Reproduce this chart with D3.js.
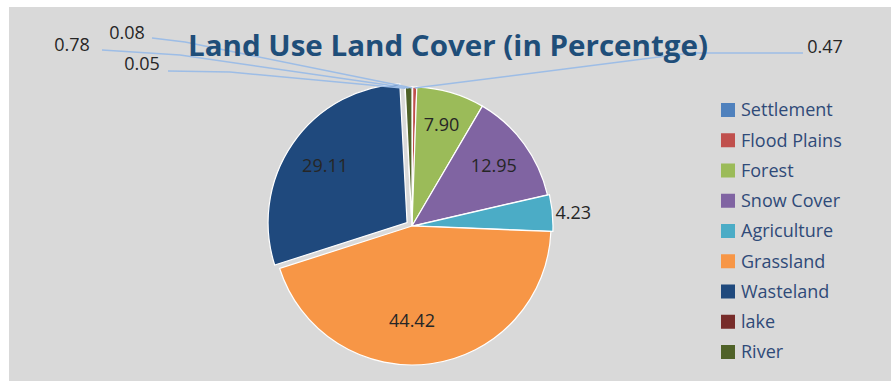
<!DOCTYPE html>
<html>
<head>
<meta charset="utf-8">
<script src="https://cdn.jsdelivr.net/npm/d3@7"></script>
<style>
  body { margin: 0; background: #fff; }
  text { font-family: "Open Sans", Lato, sans-serif; }
</style>
</head>
<body>
<svg id="chart"></svg>
<script>
// data
const categories = ["Settlement", "Flood Plains", "Forest", "Snow Cover", "Agriculture", "Grassland", "Wasteland", "lake", "River"];
const values = [0.08, 0.47, 7.90, 12.95, 4.23, 44.42, 29.11, 0.05, 0.78];
const colors = ["#4f81bd", "#c0504d", "#9bbb59", "#8064a2", "#4bacc6", "#f79646", "#1f497d", "#772c2a", "#4f6228"];
const valueLabels = ["0.08", "0.47", "7.90", "12.95", "4.23", "44.42", "29.11", "0.05", "0.78"];

const width = 891, height = 381;
const cx = 412, cy = 226, r = 139;

const svg = d3.select("#chart")
  .attr("width", width)
  .attr("height", height);

svg.append("rect")
  .attr("x", 9).attr("y", 7)
  .attr("width", width - 9).attr("height", height - 7)
  .attr("fill", "#d9d9d9");

const data = categories.map((c, i) => ({ name: c, value: values[i], color: colors[i], label: valueLabels[i] }));

const pie = d3.pie().value(d => d.value).sort(null);
const arc = d3.arc().innerRadius(0).outerRadius(r);
const arcs = pie(data);

// slight explosion for a couple of slices
const explode = { "Wasteland": 6, "Agriculture": 2 };

const g = svg.append("g").attr("transform", `translate(${cx},${cy})`);

g.selectAll("path")
  .data(arcs)
  .enter().append("path")
  .attr("d", arc)
  .attr("fill", d => d.data.color)
  .attr("stroke", "#ffffff")
  .attr("stroke-width", 1.2)
  .attr("transform", d => {
    const off = explode[d.data.name] || 0;
    const a = (d.startAngle + d.endAngle) / 2;
    return `translate(${Math.sin(a) * off},${-Math.cos(a) * off})`;
  });

// inside labels
const inside = { "Forest": 0.76, "Snow Cover": 0.73, "Grassland": 0.7, "Wasteland": 0.76 };
g.selectAll("text.in")
  .data(arcs.filter(d => inside[d.data.name]))
  .enter().append("text")
  .attr("class", "in")
  .attr("x", d => {
    const a = (d.startAngle + d.endAngle) / 2;
    return d.data.name === "Grassland" ? 0 : Math.sin(a) * r * inside[d.data.name];
  })
  .attr("y", d => {
    const a = (d.startAngle + d.endAngle) / 2;
    return d.data.name === "Grassland" ? 95 : -Math.cos(a) * r * inside[d.data.name];
  })
  .attr("dy", "0.35em")
  .attr("text-anchor", "middle")
  .attr("font-size", 18)
  .attr("fill", "#262626")
  .text(d => d.data.label);

// agriculture label just outside
const agri = arcs.find(d => d.data.name === "Agriculture");
const aa = (agri.startAngle + agri.endAngle) / 2;
g.append("text")
  .attr("x", Math.sin(aa) * (r + 5))
  .attr("y", -Math.cos(aa) * (r + 5))
  .attr("dy", "0.35em")
  .attr("font-size", 18)
  .attr("fill", "#262626")
  .text(agri.data.label);

// callouts for the tiny slices
const callouts = {
  "Flood Plains": { x: 825, y: 47, line: [[803, 53], [690, 53]] },
  "Settlement": { x: 127, y: 33, line: [[152, 38], [185, 42]] },
  "River": { x: 72, y: 45, line: [[102, 50], [180, 55]] },
  "lake": { x: 142, y: 64, line: [[168, 71], [230, 72]] }
};

arcs.filter(d => callouts[d.data.name]).forEach(d => {
  const c = callouts[d.data.name];
  const a = (d.startAngle + d.endAngle) / 2;
  const end = [cx + Math.sin(a) * (r - 1), cy - Math.cos(a) * (r - 1)];
  const pts = c.line.concat([end]);
  svg.append("path")
    .attr("d", d3.line()(pts))
    .attr("fill", "none")
    .attr("stroke", "#9dbde6")
    .attr("stroke-width", 1.5);
  svg.append("text")
    .attr("x", c.x).attr("y", c.y)
    .attr("dy", "0.35em")
    .attr("text-anchor", "middle")
    .attr("font-size", 18)
    .attr("fill", "#262626")
    .text(d.data.label);
});

// title
svg.append("text")
  .attr("x", 448).attr("y", 56)
  .attr("text-anchor", "middle")
  .attr("font-size", 29)
  .attr("font-weight", "bold")
  .attr("fill", "#1f4e79")
  .attr("textLength", 520)
  .attr("lengthAdjust", "spacingAndGlyphs")
  .text("Land Use Land Cover (in Percentge)");

// legend
const legend = svg.append("g").attr("transform", "translate(721,110)");
const item = legend.selectAll("g")
  .data(data)
  .enter().append("g")
  .attr("transform", (d, i) => `translate(0,${i * 30.25})`);
item.append("rect")
  .attr("x", 0).attr("y", -7)
  .attr("width", 14).attr("height", 14)
  .attr("fill", d => d.color);
item.append("text")
  .attr("x", 20).attr("y", 0)
  .attr("dy", "0.35em")
  .attr("font-size", 18)
  .attr("fill", "#2f4a78")
  .text(d => d.name);
</script>
</body>
</html>
